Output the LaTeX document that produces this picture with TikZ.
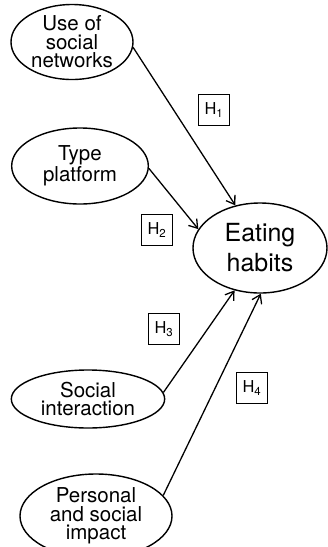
\documentclass[tikz,border=0pt]{standalone}
\usepackage{fontspec}
\setmainfont{TeX Gyre Heros}
\usetikzlibrary{arrows.meta,shapes.geometric}

\begin{document}
\begin{tikzpicture}[
    x=0.03cm, y=-0.03cm,
    every node/.style={font=\fontsize{17.5}{15.8}\selectfont},
    factor/.style={draw, ellipse, line width=1.2pt, align=center, inner sep=0pt},
    hyp/.style={draw, line width=1.1pt, minimum size=0.93cm, inner sep=0pt, font=\fontsize{14}{16}\selectfont},
    flow/.style={-{Straight Barb[length=2.4mm, width=3.2mm]}, line width=1.1pt}
]
\useasboundingbox (0,0) rectangle (327,547);
\node[factor, minimum width=3.66cm, minimum height=2.25cm] (use) at (72,42) {Use of\\social\\networks};
\node[factor, minimum width=4.1cm, minimum height=2.28cm] (type) at (80,166) {Type\\platform};
\node[factor, minimum width=4.02cm, minimum height=2.7cm, font=\fontsize{21.3}{25.6}\selectfont] (eating) at (260,248) {Eating\\habits};
\node[factor, minimum width=4.6cm, minimum height=1.74cm] (interaction) at (88,399) {Social\\interaction};
\node[factor, minimum width=4.56cm, minimum height=2.52cm] (impact) at (96,516) {Personal\\and social\\impact};
\node[hyp] (h1) at (214,110) {H\textsubscript{1}};
\node[hyp] (h2) at (157,230) {H\textsubscript{2}};
\node[hyp] (h3) at (164,329) {H\textsubscript{3}};
\node[hyp] (h4) at (252,388) {H\textsubscript{4}};
\draw[flow] (use.-5) -- (eating.120);
\draw[flow] (type.-2) -- (eating.163);
\draw[flow] (interaction.5) -- (eating.239);
\draw[flow] (impact.17) -- (eating.271);
\end{tikzpicture}
\end{document}
